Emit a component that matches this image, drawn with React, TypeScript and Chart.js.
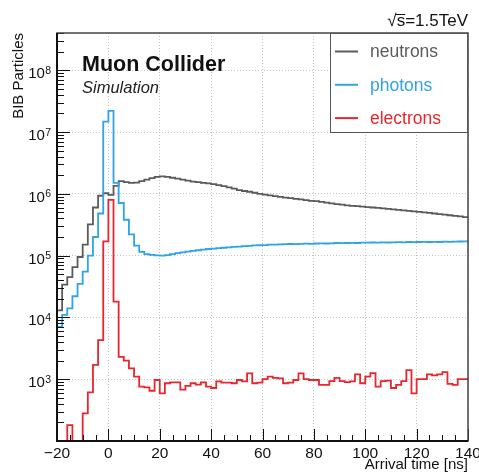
import React, { useEffect, useRef } from 'react';
import { Chart, registerables } from 'chart.js';

Chart.register(...registerables);

// ---- data ----
const binStart = -20; // ns, lower edge of first bin
const binWidth = 2; // ns
const xMin = -20;
const xMax = 140;
const yMin = 1e2;
const yMax = 4e8;
const xTickValues = [-20, 0, 20, 40, 60, 80, 100, 120, 140];
const yLabelDecades = [1e3, 1e4, 1e5, 1e6, 1e7, 1e8];
const seriesLabels = ['neutrons', 'photons', 'electrons'];
const seriesColors = ['#5b5b5b', '#2fa4e7', '#e8262e'];

const neutrons = [
  1.3e4, 3.4e4, 4.5e4, 6.5e4, 9.5e4, 1.5e5, 3.2e5, 6.0e5, 9.3e5, 1.02e6,
  9.6e5, 1.34e6, 1.6e6, 1.55e6, 1.5e6, 1.52e6, 1.6e6, 1.7e6, 1.8e6, 1.88e6,
  1.92e6, 1.88e6, 1.82e6, 1.76e6, 1.7e6, 1.64e6, 1.58e6, 1.54e6, 1.5e6, 1.47e6,
  1.43e6, 1.38e6, 1.33e6, 1.27e6, 1.21e6, 1.15e6, 1.11e6, 1.08e6, 1.04e6, 1.0e6,
  9.7e5, 9.4e5, 9.2e5, 8.9e5, 8.7e5, 8.5e5, 8.3e5, 8.1e5, 7.9e5, 7.7e5,
  7.6e5, 7.4e5, 7.2e5, 7.0e5, 6.8e5, 6.7e5, 6.5e5, 6.4e5, 6.3e5, 6.2e5,
  6.1e5, 6.0e5, 5.9e5, 5.8e5, 5.7e5, 5.6e5, 5.5e5, 5.4e5, 5.3e5, 5.2e5,
  5.1e5, 5.0e5, 4.9e5, 4.8e5, 4.7e5, 4.6e5, 4.5e5, 4.4e5, 4.3e5, 4.2e5,
];

const photons = [
  7.0e3, 1.1e4, 1.4e4, 2.2e4, 3.5e4, 5.5e4, 1.0e5, 2.0e5, 4.8e5, 1.47e7,
  2.2e7, 1.5e6, 7.1e5, 3.8e5, 2.2e5, 1.45e5, 1.15e5, 1.06e5, 1.03e5, 1.01e5,
  1.0e5, 1.02e5, 1.06e5, 1.1e5, 1.13e5, 1.16e5, 1.19e5, 1.22e5, 1.25e5, 1.28e5,
  1.3e5, 1.32e5, 1.34e5, 1.36e5, 1.38e5, 1.4e5, 1.42e5, 1.44e5, 1.46e5, 1.47e5,
  1.48e5, 1.5e5, 1.5e5, 1.52e5, 1.53e5, 1.54e5, 1.53e5, 1.55e5, 1.56e5, 1.55e5,
  1.57e5, 1.58e5, 1.57e5, 1.58e5, 1.6e5, 1.59e5, 1.6e5, 1.61e5, 1.6e5, 1.62e5,
  1.62e5, 1.63e5, 1.62e5, 1.64e5, 1.63e5, 1.64e5, 1.65e5, 1.64e5, 1.66e5, 1.65e5,
  1.66e5, 1.67e5, 1.66e5, 1.67e5, 1.66e5, 1.68e5, 1.67e5, 1.68e5, 1.69e5, 1.7e5,
];

const electrons = [
  100, 100, 180, 100, 100, 280, 610, 1700, 4300, 1.7e5,
  8.0e5, 1.8e4, 2300, 2000, 1500, 1100, 760, 740, 650, 970,
  590, 860, 890, 890, 680, 780, 860, 820, 890, 760,
  720, 920, 880, 880, 860, 970, 920, 1240, 860, 880,
  1000, 1100, 1050, 1030, 860, 880, 970, 1240, 1000, 970,
  970, 810, 810, 930, 1050, 930, 900, 920, 1200, 860,
  1100, 1250, 760, 930, 950, 720, 810, 930, 1400, 590,
  1000, 1000, 1200, 1150, 1200, 1300, 840, 810, 1000, 1000,
];

const FONT = '"Liberation Sans", Arial, Helvetica, sans-serif';

function toSteps(values: number[]) {
  const pts = values.map((v, i) => ({ x: binStart + i * binWidth, y: v }));
  pts.push({ x: binStart + values.length * binWidth, y: values[values.length - 1] });
  return pts;
}

function isPow10(v: number) {
  const l = Math.log10(v);
  return Math.abs(l - Math.round(l)) < 1e-9;
}

function yTickList() {
  const out: number[] = [];
  for (let d = Math.round(Math.log10(yMin)); d <= Math.round(Math.log10(yMax)); d++) {
    for (let k = 1; k <= 9; k++) {
      const v = k * Math.pow(10, d);
      if (v >= yMin && v <= yMax * 1.0001) out.push(v);
    }
  }
  return out;
}

const decorPlugin = {
  id: 'decor',
  afterDraw(chart: any) {
    const { ctx, chartArea: a, scales } = chart;
    const xs = scales.x;
    const ys = scales.y;
    ctx.save();

    // ticks (inside frame, ROOT style)
    ctx.strokeStyle = '#111';
    ctx.lineWidth = 1;
    ctx.beginPath();
    for (const t of ys.ticks) {
      const py = Math.round(ys.getPixelForValue(t.value)) + 0.5;
      const len = isPow10(t.value) ? 13 : 7;
      ctx.moveTo(a.left, py);
      ctx.lineTo(a.left + len, py);
    }
    for (let v = xMin; v <= xMax; v += 5) {
      const px = Math.round(xs.getPixelForValue(v)) + 0.5;
      const len = v % 20 === 0 ? 12 : 6;
      ctx.moveTo(px, a.bottom);
      ctx.lineTo(px, a.bottom - len);
    }
    ctx.stroke();

    // frame
    ctx.strokeStyle = '#444';
    ctx.lineWidth = 1.5;
    ctx.strokeRect(a.left, a.top, a.right - a.left, a.bottom - a.top);
    ctx.strokeStyle = '#111';
    ctx.lineWidth = 2;
    ctx.beginPath();
    ctx.moveTo(a.left, a.top);
    ctx.lineTo(a.left, a.bottom);
    ctx.lineTo(a.right, a.bottom);
    ctx.stroke();

    // y tick labels 10^n
    ctx.fillStyle = '#111';
    for (const v of yLabelDecades) {
      const py = ys.getPixelForValue(v);
      const exp = String(Math.round(Math.log10(v)));
      ctx.font = `10.5px ${FONT}`;
      const ew = ctx.measureText(exp).width;
      const right = 51;
      ctx.textAlign = 'left';
      ctx.textBaseline = 'alphabetic';
      ctx.fillText(exp, right - ew, py + 3.5);
      ctx.font = `15px ${FONT}`;
      ctx.textAlign = 'right';
      ctx.fillText('10', right - ew - 0.3, py + 8);
    }

    // axis titles
    ctx.font = `15px ${FONT}`;
    ctx.fillStyle = '#111';
    ctx.textAlign = 'right';
    ctx.textBaseline = 'alphabetic';
    ctx.fillText('Arrival time [ns]', a.right, 469);
    ctx.save();
    ctx.translate(23, a.top);
    ctx.rotate(-Math.PI / 2);
    ctx.fillText('BIB Particles', 0, 0);
    ctx.restore();

    // energy label with sqrt
    ctx.font = `17px ${FONT}`;
    ctx.textAlign = 'right';
    const eText = '√s=1.5TeV';
    const W = ctx.measureText(eText).width;
    ctx.fillText(eText, a.right, 26);
    const x0 = a.right - W;
    const w1 = ctx.measureText('√').width;
    const w2 = ctx.measureText('s').width;
    ctx.strokeStyle = '#111';
    ctx.lineWidth = 1;
    ctx.beginPath();
    ctx.moveTo(x0 + w1 - 1, 14.5);
    ctx.lineTo(x0 + w1 + w2, 14.5);
    ctx.stroke();

    // Muon Collider labels
    ctx.textAlign = 'left';
    ctx.font = `bold 21.5px ${FONT}`;
    ctx.fillText('Muon Collider', 82, 71);
    ctx.font = `italic 16.5px ${FONT}`;
    ctx.fillStyle = '#222';
    ctx.fillText('Simulation', 82, 93);

    // legend
    const lx = 330;
    const ly = a.top;
    const lw = a.right - lx;
    const lh = 100;
    ctx.fillStyle = '#fff';
    ctx.fillRect(lx, ly, lw, lh);
    ctx.strokeStyle = '#555';
    ctx.lineWidth = 1;
    ctx.strokeRect(lx + 0.5, ly + 0.5, lw - 1, lh - 1);
    ctx.font = `17.5px ${FONT}`;
    ctx.textBaseline = 'middle';
    chart.data.datasets.forEach((ds: any, i: number) => {
      const cy = ly + 18.5 + i * 33.3;
      ctx.strokeStyle = ds.borderColor;
      ctx.lineWidth = 2;
      ctx.beginPath();
      ctx.moveTo(lx + 5, cy);
      ctx.lineTo(lx + 28, cy);
      ctx.stroke();
      ctx.fillStyle = ds.borderColor;
      ctx.fillText(ds.label, lx + 40, cy + 1);
    });

    ctx.restore();
  },
};

export default function App() {
  const ref = useRef<HTMLCanvasElement>(null);

  useEffect(() => {
    if (!ref.current) return;
    const series = [neutrons, photons, electrons];
    const yTicks = yTickList();
    const chart = new Chart(ref.current, {
      type: 'line',
      data: {
        datasets: series.map((vals, i) => ({
          label: seriesLabels[i],
          data: toSteps(vals),
          borderColor: seriesColors[i],
          backgroundColor: seriesColors[i],
          borderWidth: 1.8,
          pointRadius: 0,
          fill: false,
          stepped: 'before' as const,
          order: 3 - i,
        })),
      },
      options: {
        animation: false,
        responsive: false,
        events: [],
        layout: { padding: { top: 33, right: 11, left: 0, bottom: 0 } },
        plugins: {
          legend: { display: false },
          tooltip: { enabled: false },
        },
        scales: {
          x: {
            type: 'linear',
            min: xMin,
            max: xMax,
            afterBuildTicks: (scale: any) => {
              scale.ticks = xTickValues.map((v) => ({ value: v }));
            },
            afterFit: (scale: any) => {
              scale.height = 34;
              scale.paddingLeft = 0;
              scale.paddingRight = 0;
            },
            grid: {
              color: '#c4c4c4',
              lineWidth: 1,
              drawTicks: false,
            },
            border: { display: false, dash: [1, 2] },
            ticks: {
              autoSkip: false,
              maxRotation: 0,
              padding: 3,
              color: '#111',
              font: { family: FONT, size: 15.5 },
              callback: (v: any) => (Number(v) < 0 ? '\u2212' + Math.abs(Number(v)) : String(v)),
            },
          },
          y: {
            type: 'logarithmic',
            min: yMin,
            max: yMax,
            afterBuildTicks: (scale: any) => {
              scale.ticks = yTicks.map((v) => ({ value: v, major: isPow10(v) }));
            },
            afterFit: (scale: any) => {
              scale.width = 57;
              scale.paddingTop = 0;
              scale.paddingBottom = 0;
            },
            grid: {
              color: (ctx: any) => (ctx.tick && isPow10(ctx.tick.value) ? '#c4c4c4' : 'rgba(0,0,0,0)'),
              lineWidth: 1,
              drawTicks: false,
            },
            border: { display: false, dash: [1, 2] },
            ticks: { display: false },
          },
        },
      },
      plugins: [decorPlugin],
    });
    return () => chart.destroy();
  }, []);

  return (
    <div style={{ position: 'absolute', left: 0, top: 0, width: 479, height: 475, background: '#fff' }}>
      <canvas ref={ref} width={479} height={475} style={{ display: 'block' }} />
    </div>
  );
}
